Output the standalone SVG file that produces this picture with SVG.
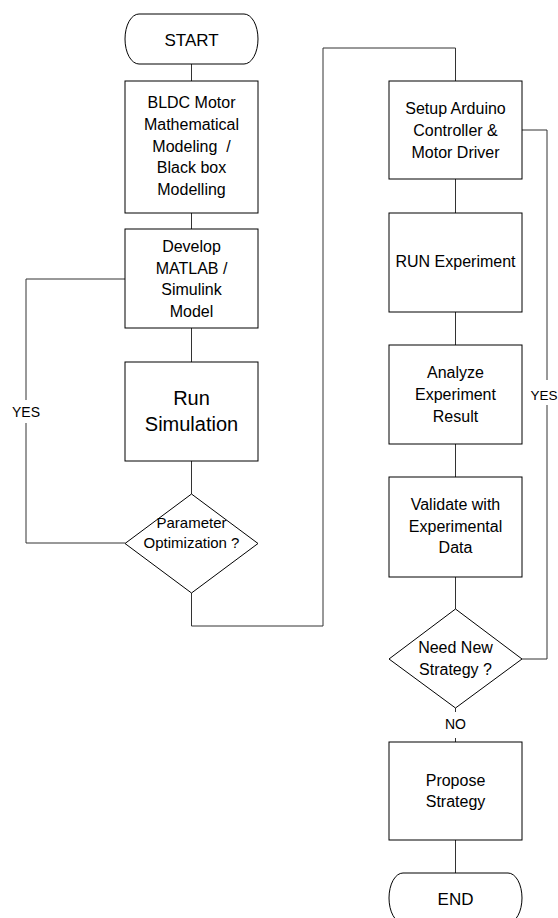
<svg xmlns="http://www.w3.org/2000/svg" width="558" height="918" viewBox="0 0 558 918">
<style>
.n{fill:#fff;stroke:#000;stroke-width:1}
.c{fill:none;stroke:#333;stroke-width:1}
text{font-family:"Liberation Sans",Arial,sans-serif;fill:#000;text-anchor:middle}
.t{font-size:16px}
.s{font-size:15px}
.b{font-size:20px}
.l{font-size:14px}
.e{font-size:17px}
</style>
<rect width="558" height="918" fill="#fff"/>
<g id="connectors">
<path class="c" d="M191.5,64V81M191.5,213V229M191.5,328V362M191.5,461V494"/>
<path class="c" d="M125,543H26V423M26,400V279H125"/>
<path class="c" d="M191.5,593V626H323V48H455.5V81"/>
<path class="c" d="M455.5,179V213M455.5,312V345M455.5,444V477M455.5,577V609"/>
<path class="c" d="M522,659H547V405M547,380V130H522"/>
<path class="c" d="M455.5,708V712M455.5,738V742M455.5,840V873"/>
<text class="l" x="26" y="417">YES</text>
<text class="l" x="557.5" y="400" style="text-anchor:end;font-size:13.5px">YES</text>
<text class="l" x="455.5" y="729">NO</text>
</g>
<g id="start">
<rect class="n" x="125" y="14" width="133" height="50" rx="14" ry="25"/>
<text class="e" x="191.5" y="46">START</text>
</g>
<g id="bldc">
<rect class="n" x="125" y="81" width="133" height="132"/>
<text class="t" x="191.5" y="108">BLDC Motor</text>
<text class="t" x="191.5" y="130">Mathematical</text>
<text class="t" x="191.5" y="151.5" style="white-space:pre">Modeling  /</text>
<text class="t" x="191.5" y="173">Black box</text>
<text class="t" x="191.5" y="195">Modelling</text>
</g>
<g id="develop">
<rect class="n" x="125" y="229" width="133" height="99"/>
<text class="t" x="191.5" y="252">Develop</text>
<text class="t" x="191.5" y="273.5">MATLAB /</text>
<text class="t" x="191.5" y="295">Simulink</text>
<text class="t" x="191.5" y="317">Model</text>
</g>
<g id="run">
<rect class="n" x="125" y="362" width="133" height="99"/>
<text class="b" x="191.5" y="405">Run</text>
<text class="b" x="191.5" y="431">Simulation</text>
</g>
<g id="param">
<polygon class="n" points="191.5,494 258,543.5 191.5,593 125,543.5"/>
<text class="s" x="191.5" y="528">Parameter</text>
<text class="s" x="191.5" y="548">Optimization ?</text>
</g>
<g id="setup">
<rect class="n" x="389" y="81" width="133" height="98"/>
<text class="t" x="455.5" y="114">Setup Arduino</text>
<text class="t" x="455.5" y="136">Controller &amp;</text>
<text class="t" x="455.5" y="158">Motor Driver</text>
</g>
<g id="experiment">
<rect class="n" x="389" y="213" width="133" height="99"/>
<text class="t" x="455.5" y="267">RUN Experiment</text>
</g>
<g id="analyze">
<rect class="n" x="389" y="345" width="133" height="99"/>
<text class="t" x="455.5" y="378">Analyze</text>
<text class="t" x="455.5" y="400">Experiment</text>
<text class="t" x="455.5" y="422">Result</text>
</g>
<g id="validate">
<rect class="n" x="389" y="477" width="133" height="100"/>
<text class="t" x="455.5" y="510">Validate with</text>
<text class="t" x="455.5" y="532">Experimental</text>
<text class="t" x="455.5" y="553">Data</text>
</g>
<g id="need">
<polygon class="n" points="455.5,609 522,659 455.5,708 389,659"/>
<text class="t" x="455.5" y="653">Need New</text>
<text class="t" x="455.5" y="675">Strategy ?</text>
</g>
<g id="propose">
<rect class="n" x="389" y="742" width="133" height="98"/>
<text class="t" x="455.5" y="786">Propose</text>
<text class="t" x="455.5" y="807">Strategy</text>
</g>
<g id="end">
<rect class="n" x="389" y="873" width="133" height="50" rx="14" ry="25"/>
<text class="e" x="455.5" y="905">END</text>
</g>
</svg>
